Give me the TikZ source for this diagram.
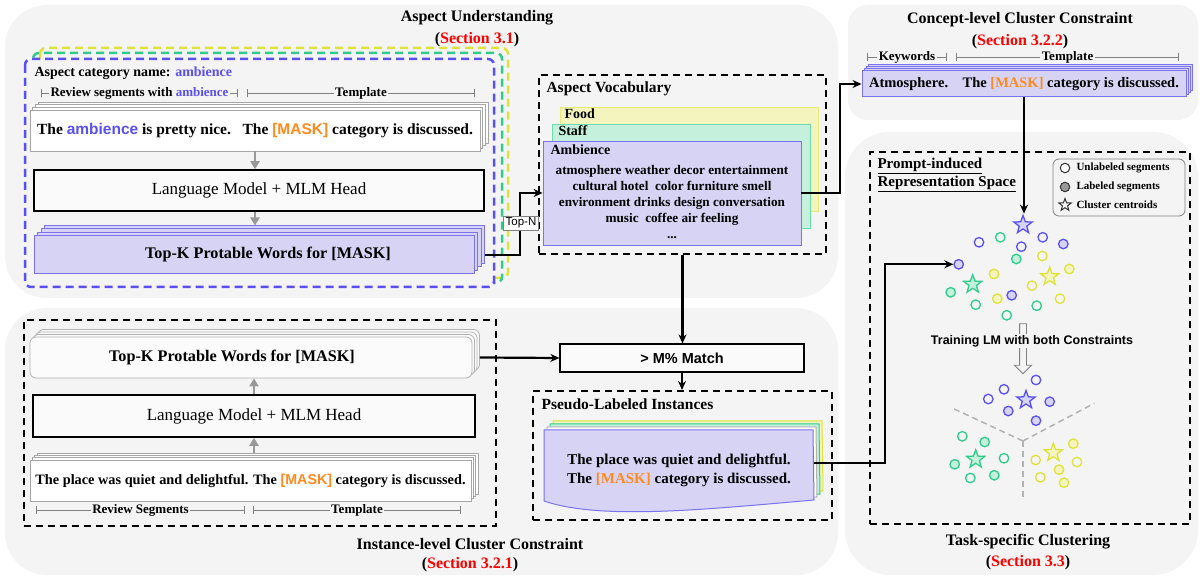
\documentclass[tikz,border=0pt]{standalone}
\usepackage{fontspec}
\setmainfont{Liberation Serif}
\setsansfont{Liberation Sans}
\usetikzlibrary{arrows.meta,shadows,shapes.arrows,shapes.geometric,calc}
\definecolor{panel}{HTML}{F4F4F4}
\definecolor{ablue}{HTML}{5A50F0}
\definecolor{lav}{HTML}{D6D3F4}
\definecolor{lavb}{HTML}{7B72F0}
\definecolor{agreen}{HTML}{2FCC8C}
\definecolor{lgreen}{HTML}{C4F0DC}
\definecolor{ayellow}{HTML}{DDE33A}
\definecolor{lyellow}{HTML}{F4F5BE}
\definecolor{mask}{HTML}{FF8A1E}
\definecolor{secred}{HTML}{FF0000}
\definecolor{ggray}{HTML}{999999}
\newcommand{\fs}[2]{\fontsize{#1}{#2}\selectfont}
\newcommand{\msk}{\textsf{\textcolor{mask}{[MASK]}}}
\newcommand{\mskr}{\textcolor{mask}{[MASK]}}
\tikzset{
  conn/.style={line width=2.2pt, -{Stealth[length=9pt,width=8pt]}},
  garrow/.style={draw=ggray, line width=2.8pt, -{Triangle[length=8pt,width=9pt]}},
  dbox/.style={draw=black, line width=2pt, dash pattern=on 7pt off 5pt},
  brk/.style={line width=0.8pt, {Bar[width=8pt]}-{Bar[width=8pt]}},
  brktext/.style={fill=panel, inner sep=1.5pt, font=\fs{13}{15}\bfseries, text=black},
  shd/.style n args={3}{copy shadow={shadow xshift=#3, shadow yshift=#3, draw=#1, fill=#2}},
  title/.style={font=\fs{16}{18}\bfseries},
  circ/.style={circle, line width=1.3pt, minimum size=9.5pt, inner sep=0pt},
  cstar/.style={star, star points=5, star point ratio=2.4, minimum size=19pt, inner sep=0pt, line width=1.3pt},
}
\begin{document}
\begin{tikzpicture}[x=1pt,y=-1pt]
\useasboundingbox (0,0) rectangle (1203,577);
\fill[white] (0,0) rectangle (1203,577);
% panels
\fill[panel, rounded corners=42pt] (5,5) rectangle (838,298);
\fill[panel, rounded corners=42pt] (5,308) rectangle (838,575);
\fill[panel, rounded corners=20pt] (848,5) rectangle (1198,120);
\fill[panel, rounded corners=45pt] (845,132) rectangle (1198,575);

% titles
\node[title] (t1) at (477,18) {Aspect Understanding};
\node[title] (t1s) at (477,40) {(\textcolor{secred}{Section 3.1})};
\node[title] (t2) at (1020,20) {Concept-level Cluster Constraint};
\node[title] (t2s) at (1020,42) {(\textcolor{secred}{Section 3.2.2})};
\node[title] (t3) at (470,544) {Instance-level Cluster Constraint};
\node[title] (t3s) at (470,565) {(\textcolor{secred}{Section 3.2.1})};
\node[title] (t4) at (1028,542) {Task-specific Clustering};
\node[title] (t4s) at (1028,563) {(\textcolor{secred}{Section 3.3})};

% ===== Aspect Understanding =====
\draw[ayellow, line width=2.5pt, dash pattern=on 8pt off 5pt, rounded corners=6pt] (40,48) rectangle (508,278);
\draw[agreen, line width=2.5pt, dash pattern=on 8pt off 5pt, rounded corners=6pt] (33,53) rectangle (502,283);
\draw[ablue, fill=panel, line width=2.5pt, dash pattern=on 8pt off 5pt, rounded corners=6pt] (25,59) rectangle (494,287);

\node[anchor=west, font=\fs{14}{16}\bfseries] (acn) at (31,73) {Aspect category name: \textcolor{ablue}{ambience}};
\coordinate (b1a) at (41,93); \coordinate (b1b) at (238,93);
\coordinate (b1c) at (247,93); \coordinate (b1d) at (475,93);
\draw[brk, gray] (b1a) -- (b1b) node[midway, brktext] (b1t) {Review segments with \textcolor{ablue}{ambience}};
\draw[brk, gray] (b1c) -- (b1d) node[midway, brktext] (b2t) {Template};

\node[draw=gray!70, fill=white, line width=0.8pt, minimum width=450pt, minimum height=41pt,
  shd={gray!70}{white}{8pt}, shd={gray!70}{white}{5.3pt}, shd={gray!70}{white}{2.7pt},
  font=\fs{15.5}{18}\bfseries] (s1) at (255,130.5)
  {The \textsf{\textcolor{ablue}{ambience}} is pretty nice.\ \ \ The \msk{} category is discussed.};

\node[draw=black, fill=panel!50!white, line width=1.5pt, minimum width=450pt, minimum height=41pt,
  font=\fs{17}{20}] (lm1) at (259,190.5) {Language Model + MLM Head};

\node[draw=lavb, fill=lav, line width=1pt, minimum width=440pt, minimum height=38pt,
  shd={lavb}{lav}{10.5pt}, shd={lavb}{lav}{7pt}, shd={lavb}{lav}{3.5pt}] (tk1) at (254,255) {};
\node[font=\fs{16.2}{19}\bfseries] (tk1t) at (268,255) {Top-K Protable Words for [MASK]};

\draw[garrow] (s1.south) -- (s1.south |- lm1.north);
\draw[garrow] (s1.south |- lm1.south) -- ($(s1.south |- tk1.north)+(0,-10)$);

% ===== Aspect Vocabulary =====
\node[dbox, minimum width=287pt, minimum height=179pt] (av) at (682.5,164.5) {};
\node[anchor=west, font=\fs{15.5}{17}\bfseries] (avt) at (543,89) {Aspect Vocabulary};
\node[draw=ayellow!70, fill=lyellow, line width=0.8pt, minimum width=258pt, minimum height=104pt] (food) at (689,159) {};
\node[anchor=west, font=\fs{14}{15}\bfseries] (foodt) at (561,114) {Food};
\node[draw=agreen!70, fill=lgreen, line width=0.8pt, minimum width=258pt, minimum height=104pt] (staff) at (681,176) {};
\node[anchor=west, font=\fs{14}{15}\bfseries] (stafft) at (555,131) {Staff};
\node[draw=lavb, fill=lav, line width=0.8pt, minimum width=258pt, minimum height=104pt] (amb) at (672,193) {};
\node[anchor=west, font=\fs{14}{15}\bfseries] (ambt) at (547,150) {Ambience};
\node[align=center, font=\fs{13.2}{16}\bfseries] (words) at (672,202)
 {atmosphere weather decor entertainment\\cultural hotel\ \ color furniture smell\\environment drinks design conversation\\music\ \ coffee air feeling\\...};

\coordinate (tn) at (520,0);
\draw[conn] ([xshift=10.5pt]tk1.east) -| (tn |- amb.west) -- (amb.west);
\node[draw=gray, fill=white, line width=0.6pt, inner sep=2pt, font=\fs{11.5}{13}\sffamily] (topn) at (521,223) {Top-N};

% ===== Concept-level =====
\node[draw=lavb, fill=lav, line width=1pt, minimum width=324pt, minimum height=26pt,
  shd={lavb}{lav}{6pt}, shd={lavb}{lav}{4pt}, shd={lavb}{lav}{2pt},
  font=\fs{14.5}{17}\bfseries] (cc) at (1024,84) {Atmosphere.\ \ \ \ The \mskr{} category is discussed.};
\coordinate (b3a) at (867,57); \coordinate (b3b) at (947,57);
\coordinate (b3c) at (956,57); \coordinate (b3d) at (1179,57);
\draw[brk, gray] (b3a) -- (b3b) node[midway, brktext] (b3t) {Keywords};
\draw[brk, gray] (b3c) -- (b3d) node[midway, brktext] (b4t) {Template};

\coordinate (k1) at (840,0);
\draw[conn] (amb.east) -| (k1 |- cc.west) -- (cc.west);

% ===== Task-specific =====
\node[dbox, minimum width=320pt, minimum height=372pt] (ts) at (1030,338) {};
\node[anchor=west, align=left, font=\fs{15}{18}\bfseries] (pirs) at (874,175)
  {\underline{Prompt-induced}\\\underline{Representation Space}};
\node[draw=gray, fill=panel, rounded corners=6pt, line width=0.8pt, minimum width=132pt, minimum height=57pt] (leg) at (1119,187.5) {};
\node[circ, draw=black!80, fill=white, line width=1pt] (l1) at (1065,168) {};
\node[circ, draw=black!80, fill=ggray, line width=1pt] (l2) at (1065,187) {};
\node[cstar, draw=black!80, fill=panel, line width=1pt, minimum size=13pt] (l3) at (1065,205) {};
\node[anchor=west, font=\fs{11}{13}\bfseries] (l1t) at (1073,168) {Unlabeled segments};
\node[anchor=west, font=\fs{11}{13}\bfseries] (l2t) at (1073,187) {Labeled segments};
\node[anchor=west, font=\fs{11}{13}\bfseries] (l3t) at (1073,205) {Cluster centroids};

% upper cluster
\foreach \x/\y/\dc/\fc [count=\i] in {
  979/242.3/ablue/none, 1000.3/237.3/agreen/none, 1042.7/237.3/ablue/none,
  1063.3/244/ablue/lav, 1021.3/246.7/ablue/none, 1016.3/259/agreen/lgreen,
  1042.3/256/ayellow/none, 1069.3/269/ayellow/lyellow, 994/274/ayellow/lyellow,
  1032/285.7/ayellow/none, 950.7/292.3/agreen/lgreen, 997.3/298.7/ayellow/lyellow,
  1011.7/295.3/ablue/lav, 1060/298.7/ayellow/none, 975.7/304.7/agreen/none,
  1036.7/305.7/agreen/none, 1006.7/315.3/agreen/none}
  {\node[circ, draw=\dc, fill=\fc] (u\i) at (\x,\y) {};}
\node[circ, draw=ablue, fill=lav] (tgt) at (958.7,264.3) {};
\node[cstar, draw=ablue, fill=lav] (us1) at (1023,225) {};
\node[cstar, draw=agreen, fill=lgreen] (us2) at (972.7,284.3) {};
\node[cstar, draw=ayellow, fill=lyellow] (us3) at (1049.7,276.7) {};

\draw[conn] (cc.south) -- (cc.south |- us1.north);

% training arrow
\node[single arrow, draw=gray, fill=panel, line width=0.9pt, rotate=-90, minimum height=50pt,
  inner sep=3pt, single arrow head extend=5pt] (tarr) at (1023,347) {};
\node[fill=panel, inner sep=1pt, font=\fs{12.5}{14}\sffamily\bfseries] (train) at (1032,341) {Training LM with both Constraints};

% lower cluster
\coordinate (ctr) at (1023,441);
\coordinate (dv1) at (952.7,408.3);
\coordinate (dv2) at (1094.3,403.3);
\coordinate (dv3) at (1023,498.3);
\draw[gray!60, line width=1.5pt, dash pattern=on 6pt off 4pt] (ctr) -- (dv1);
\draw[gray!60, line width=1.5pt, dash pattern=on 6pt off 4pt] (ctr) -- (dv2);
\draw[gray!60, line width=1.5pt, dash pattern=on 6pt off 4pt] (ctr) -- (dv3);
\foreach \x/\y/\dc/\fc [count=\i] in {
  1036/380/ablue/none, 1004/389.3/ablue/none, 988.3/399/ablue/none,
  1049.7/401.7/ablue/lav, 1008.3/411/ablue/lav, 1036/420.7/ablue/lav,
  962.3/436.3/agreen/none, 984.7/442/agreen/lgreen, 1004/458.3/agreen/none,
  954.7/464.3/agreen/lgreen, 994.3/475.3/agreen/lgreen, 970.3/478/agreen/none,
  1073.3/443.7/ayellow/lyellow, 1035.7/460/ayellow/none, 1077/462/ayellow/none,
  1059/469.7/ayellow/lyellow, 1040.3/477.3/ayellow/none, 1064/482.7/ayellow/lyellow}
  {\node[circ, draw=\dc, fill=\fc] (w\i) at (\x,\y) {};}
\node[cstar, draw=ablue, fill=lav] (ls1) at (1026,400) {};
\node[cstar, draw=agreen, fill=lgreen] (ls2) at (975.7,459.3) {};
\node[cstar, draw=ayellow, fill=lyellow] (ls3) at (1053.3,452.7) {};

% ===== Instance-level =====
\node[dbox, minimum width=472pt, minimum height=206pt] (inst) at (260,423) {};
\node[draw=gray!60, fill=panel!40!white, line width=0.8pt, rounded corners=6pt, minimum width=442pt, minimum height=41pt,
  shd={gray!60}{panel!40!white}{7.5pt}, shd={gray!60}{panel!40!white}{5pt}, shd={gray!60}{panel!40!white}{2.5pt}] (tk2) at (251,357.5) {};
\node[font=\fs{16.2}{19}\bfseries] (tk2t) at (232,357.5) {Top-K Protable Words for [MASK]};
\node[draw=black, fill=panel!50!white, line width=1.5pt, minimum width=442pt, minimum height=42pt,
  font=\fs{17}{20}] (lm2) at (254,416) {Language Model + MLM Head};
\node[draw=gray!70, fill=white, line width=0.8pt, minimum width=441pt, minimum height=41pt,
  shd={gray!70}{white}{7pt}, shd={gray!70}{white}{4.7pt}, shd={gray!70}{white}{2.3pt},
  font=\fs{14.3}{17}\bfseries] (s2) at (250.5,480.5)
  {The place was quiet and delightful. The \msk{} category is discussed.};
\draw[garrow] ($(lm2.south |- s2.north)+(0,-7)$) -- (lm2.south);
\draw[garrow] (lm2.north) -- (lm2.north |- tk2.south);
\coordinate (b5a) at (36,510); \coordinate (b5b) at (245,510);
\coordinate (b5c) at (253,510); \coordinate (b5d) at (461,510);
\draw[brk, gray] (b5a) -- (b5b) node[midway, brktext] (b5t) {Review Segments};
\draw[brk, gray] (b5c) -- (b5d) node[midway, brktext] (b6t) {Template};

\node[draw=black, fill=panel!50!white, line width=1.2pt, minimum width=244pt, minimum height=28pt,
  font=\fs{14.5}{16}\sffamily\bfseries] (match) at (682,358) {> M\% Match};
\draw[conn] ([xshift=7.5pt]tk2.east) -- (match.west);
\draw[conn] (av.south) -- (av.south |- match.north);

\node[dbox, minimum width=299pt, minimum height=129pt] (pl) at (682.5,455.5) {};
\draw[conn] (match.south) -- (match.south |- pl.north);
\node[anchor=west, font=\fs{15.5}{17}\bfseries] (plt) at (538,404) {Pseudo-Labeled Instances};
\foreach \d/\dc/\fc in {9/ayellow/lyellow, 6/agreen/lgreen, 3/gray!60/white, 0/lavb/lav}
{
  \begin{scope}[shift={(\d,-\d)}]
  \draw[draw=\dc, fill=\fc, line width=1pt] (544,430) -- (813,430) -- (814,500)
     .. controls (700,510) and (600,520) .. (544,501) -- cycle;
  \end{scope}
}
\node[align=center, minimum width=270pt, font=\fs{15}{19}\bfseries] (doc) at (679,470)
  {The place was quiet and delightful.\\The \mskr{} category is discussed.};
\coordinate (k2) at (885,0);
\draw[conn] ([yshift=7pt]doc.east) -| (k2 |- tgt.west) -- (tgt.west);
\end{tikzpicture}
\end{document}
